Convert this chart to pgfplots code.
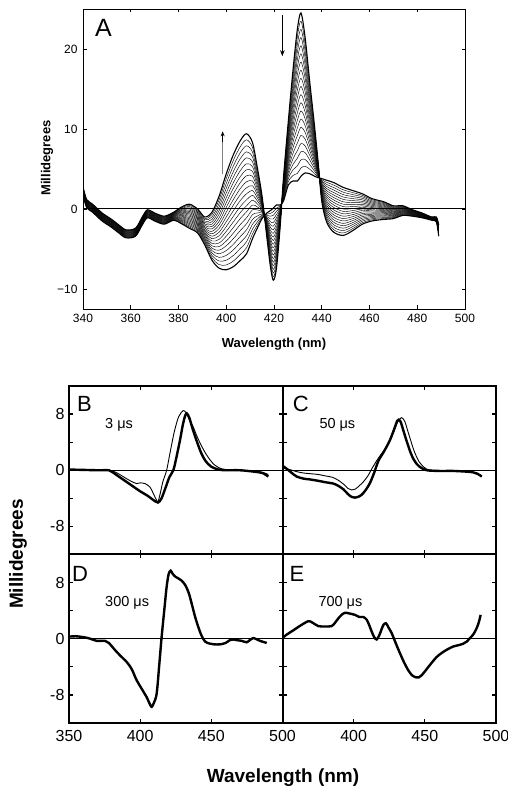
\documentclass[border=0pt]{standalone}
\usepackage{fontspec}
\setmainfont{Liberation Sans}
\usepackage{pgfplots}
\pgfplotsset{compat=1.18}
\usepackage{pgfplotstable}
\usetikzlibrary{arrows.meta}

\pgfplotstableread{
x c0 c1 c2 c3 c4 c5 c6 c7 c8 c9 c10 c11 c12 c13 c14 c15 c16 c17 c18 c19 c20
340 2.8 2.75 2.7 2.65 2.6 2.55 2.5 2.45 2.4 2.35 2.3 2.25 2.2 2.15 2.1 2.05 2.0 1.95 1.9 1.85 1.8
341.5 1.2 1.15 1.1 1.05 1.0 0.95 0.9 0.85 0.8 0.75 0.7 0.65 0.6 0.55 0.5 0.45 0.4 0.35 0.3 0.25 0.2
344 0.6 0.55 0.5 0.45 0.4 0.35 0.3 0.25 0.2 0.15 0.1 0.05 0.0 -0.05 -0.1 -0.15 -0.2 -0.25 -0.3 -0.35 -0.4
348 -0.5 -0.55 -0.6 -0.65 -0.7 -0.75 -0.8 -0.85 -0.9 -0.95 -1.0 -1.05 -1.1 -1.15 -1.2 -1.25 -1.3 -1.35 -1.4 -1.45 -1.5
352 -1.3 -1.35 -1.4 -1.45 -1.5 -1.55 -1.6 -1.65 -1.7 -1.75 -1.8 -1.85 -1.9 -1.95 -2.0 -2.05 -2.1 -2.15 -2.2 -2.25 -2.3
355 -2.0 -2.05 -2.1 -2.15 -2.2 -2.25 -2.3 -2.35 -2.4 -2.45 -2.5 -2.55 -2.6 -2.65 -2.7 -2.75 -2.8 -2.85 -2.9 -2.95 -3.0
358 -2.6 -2.65 -2.7 -2.75 -2.8 -2.85 -2.9 -2.95 -3.0 -3.05 -3.1 -3.15 -3.2 -3.25 -3.3 -3.35 -3.4 -3.45 -3.5 -3.55 -3.6
362 -2.4 -2.45 -2.5 -2.55 -2.6 -2.65 -2.7 -2.75 -2.8 -2.85 -2.9 -2.95 -3.0 -3.05 -3.1 -3.15 -3.2 -3.25 -3.3 -3.35 -3.4
365 -0.9 -0.95 -1.0 -1.05 -1.1 -1.15 -1.2 -1.25 -1.3 -1.35 -1.4 -1.45 -1.5 -1.55 -1.6 -1.65 -1.7 -1.75 -1.8 -1.85 -1.9
367 -0.1 -0.15 -0.2 -0.25 -0.3 -0.35 -0.4 -0.45 -0.5 -0.55 -0.6 -0.65 -0.7 -0.75 -0.8 -0.85 -0.9 -0.95 -1.0 -1.05 -1.1
370 -0.5 -0.55 -0.6 -0.65 -0.7 -0.75 -0.8 -0.85 -0.9 -0.95 -1.0 -1.05 -1.1 -1.15 -1.2 -1.25 -1.3 -1.35 -1.4 -1.45 -1.5
374 -0.9 -0.95 -1.0 -1.05 -1.1 -1.15 -1.2 -1.25 -1.3 -1.35 -1.4 -1.45 -1.5 -1.55 -1.6 -1.65 -1.7 -1.75 -1.8 -1.85 -1.9
378 -0.4 -0.45 -0.5 -0.55 -0.6 -0.65 -0.7 -0.75 -0.8 -0.85 -0.9 -0.95 -1.0 -1.05 -1.1 -1.15 -1.2 -1.25 -1.3 -1.35 -1.4
381 0.2 0.1 0.0 -0.1 -0.2 -0.3 -0.4 -0.5 -0.6 -0.7 -0.8 -0.9 -1.0 -1.1 -1.2 -1.3 -1.4 -1.5 -1.6 -1.7 -1.8
384.5 0.6 0.45 0.3 0.15 0.0 -0.15 -0.3 -0.45 -0.6 -0.75 -0.9 -1.05 -1.2 -1.35 -1.5 -1.65 -1.8 -1.95 -2.1 -2.25 -2.4
388 0.0 -0.15 -0.3 -0.45 -0.6 -0.75 -0.9 -1.05 -1.2 -1.35 -1.5 -1.65 -1.8 -1.95 -2.1 -2.25 -2.4 -2.55 -2.7 -2.85 -3.0
391 -1.0 -1.175 -1.35 -1.525 -1.7 -1.875 -2.05 -2.225 -2.4 -2.575 -2.75 -2.925 -3.1 -3.275 -3.45 -3.625 -3.8 -3.975 -4.15 -4.325 -4.5
394 -0.4 -0.7 -1.0 -1.3 -1.6 -1.9 -2.2 -2.5 -2.8 -3.1 -3.4 -3.7 -4.0 -4.3 -4.6 -4.9 -5.2 -5.5 -5.8 -6.1 -6.4
397 1.6 1.15 0.7 0.25 -0.2 -0.65 -1.1 -1.55 -2.0 -2.45 -2.9 -3.35 -3.8 -4.25 -4.7 -5.15 -5.6 -6.05 -6.5 -6.95 -7.4
400 4.4 3.8 3.2 2.6 2.0 1.4 0.8 0.2 -0.4 -1.0 -1.6 -2.2 -2.8 -3.4 -4.0 -4.6 -5.2 -5.8 -6.4 -7.0 -7.6
403 6.8 6.1 5.4 4.7 4.0 3.3 2.6 1.9 1.2 0.5 -0.2 -0.9 -1.6 -2.3 -3.0 -3.7 -4.4 -5.1 -5.8 -6.5 -7.2
406 8.6 7.85 7.1 6.35 5.6 4.85 4.1 3.35 2.6 1.85 1.1 0.35 -0.4 -1.15 -1.9 -2.65 -3.4 -4.15 -4.9 -5.65 -6.4
408.5 9.4 8.65 7.9 7.15 6.4 5.65 4.9 4.15 3.4 2.65 1.9 1.15 0.4 -0.35 -1.1 -1.85 -2.6 -3.35 -4.1 -4.85 -5.6
411 8.3 7.7 7.1 6.5 5.9 5.3 4.7 4.1 3.5 2.9 2.3 1.7 1.1 0.5 -0.1 -0.7 -1.3 -1.9 -2.5 -3.1 -3.7
413 5.2 4.82 4.44 4.06 3.68 3.3 2.92 2.54 2.16 1.78 1.4 1.02 0.64 0.26 -0.12 -0.5 -0.88 -1.26 -1.64 -2.02 -2.4
415 1.6 1.46 1.32 1.18 1.04 0.9 0.76 0.62 0.48 0.34 0.2 0.06 -0.08 -0.22 -0.36 -0.5 -0.64 -0.78 -0.92 -1.06 -1.2
417 -3.5 -3.35 -3.2 -3.05 -2.9 -2.75 -2.6 -2.45 -2.3 -2.15 -2.0 -1.85 -1.7 -1.55 -1.4 -1.25 -1.1 -0.95 -0.8 -0.65 -0.5
418.5 -7.2 -6.85 -6.5 -6.15 -5.8 -5.45 -5.1 -4.75 -4.4 -4.05 -3.7 -3.35 -3.0 -2.65 -2.3 -1.95 -1.6 -1.25 -0.9 -0.55 -0.2
419.7 -8.9 -8.45 -8.0 -7.55 -7.1 -6.65 -6.2 -5.75 -5.3 -4.85 -4.4 -3.95 -3.5 -3.05 -2.6 -2.15 -1.7 -1.25 -0.8 -0.35 0.1
421 -7.5 -7.1 -6.7 -6.3 -5.9 -5.5 -5.1 -4.7 -4.3 -3.9 -3.5 -3.1 -2.7 -2.3 -1.9 -1.5 -1.1 -0.7 -0.3 0.1 0.5
422.5 -2.5 -2.35 -2.2 -2.05 -1.9 -1.75 -1.6 -1.45 -1.3 -1.15 -1.0 -0.85 -0.7 -0.55 -0.4 -0.25 -0.1 0.05 0.2 0.35 0.5
424 4.0 3.85 3.7 3.55 3.4 3.25 3.1 2.95 2.8 2.65 2.5 2.35 2.2 2.05 1.9 1.75 1.6 1.45 1.3 1.15 1.0
426 11.0 10.6 10.2 9.8 9.4 9.0 8.6 8.2 7.8 7.4 7.0 6.6 6.2 5.8 5.4 5.0 4.6 4.2 3.8 3.4 3.0
428 17.5 16.8 16.1 15.4 14.7 14.0 13.3 12.6 11.9 11.2 10.5 9.8 9.1 8.4 7.7 7.0 6.3 5.6 4.9 4.2 3.5
429.8 22.5 21.55 20.6 19.65 18.7 17.75 16.8 15.85 14.9 13.95 13.0 12.05 11.1 10.15 9.2 8.25 7.3 6.35 5.4 4.45 3.5
431.3 24.5 23.48 22.46 21.44 20.42 19.4 18.38 17.36 16.34 15.32 14.3 13.28 12.26 11.24 10.22 9.2 8.18 7.16 6.14 5.12 4.1
433 21.5 20.65 19.8 18.95 18.1 17.25 16.4 15.55 14.7 13.85 13.0 12.15 11.3 10.45 9.6 8.75 7.9 7.05 6.2 5.35 4.5
435 15.8 15.23 14.66 14.09 13.52 12.95 12.38 11.81 11.24 10.67 10.1 9.53 8.96 8.39 7.82 7.25 6.68 6.11 5.54 4.97 4.4
437 10.3 9.99 9.68 9.37 9.06 8.75 8.44 8.13 7.82 7.51 7.2 6.89 6.58 6.27 5.96 5.65 5.34 5.03 4.72 4.41 4.1
438.6 5.5 5.42 5.34 5.26 5.18 5.1 5.02 4.94 4.86 4.78 4.7 4.62 4.54 4.46 4.38 4.3 4.22 4.14 4.06 3.98 3.9
440 1.0 1.14 1.28 1.42 1.56 1.7 1.84 1.98 2.12 2.26 2.4 2.54 2.68 2.82 2.96 3.1 3.24 3.38 3.52 3.66 3.8
442 -1.6 -1.34 -1.08 -0.82 -0.56 -0.3 -0.04 0.22 0.48 0.74 1.0 1.26 1.52 1.78 2.04 2.3 2.56 2.82 3.08 3.34 3.6
445 -2.9 -2.59 -2.28 -1.97 -1.66 -1.35 -1.04 -0.73 -0.42 -0.11 0.2 0.51 0.82 1.13 1.44 1.75 2.06 2.37 2.68 2.99 3.3
449 -3.3 -3.0 -2.7 -2.4 -2.1 -1.8 -1.5 -1.2 -0.9 -0.6 -0.3 0.0 0.3 0.6 0.9 1.2 1.5 1.8 2.1 2.4 2.7
453 -2.7 -2.45 -2.2 -1.95 -1.7 -1.45 -1.2 -0.95 -0.7 -0.45 -0.2 0.05 0.3 0.55 0.8 1.05 1.3 1.55 1.8 2.05 2.3
457 -1.9 -1.71 -1.52 -1.33 -1.14 -0.95 -0.76 -0.57 -0.38 -0.19 0.0 0.19 0.38 0.57 0.76 0.95 1.14 1.33 1.52 1.71 1.9
461 -1.5 -1.36 -1.22 -1.08 -0.94 -0.8 -0.66 -0.52 -0.38 -0.24 -0.1 0.04 0.18 0.32 0.46 0.6 0.74 0.88 1.02 1.16 1.3
466 -1.3 -1.19 -1.08 -0.97 -0.86 -0.75 -0.64 -0.53 -0.42 -0.31 -0.2 -0.09 0.02 0.13 0.24 0.35 0.46 0.57 0.68 0.79 0.9
470 -1.2 -1.12 -1.04 -0.96 -0.88 -0.8 -0.72 -0.64 -0.56 -0.48 -0.4 -0.32 -0.24 -0.16 -0.08 0.0 0.08 0.16 0.24 0.32 0.4
474 -0.8 -0.74 -0.68 -0.62 -0.56 -0.5 -0.44 -0.38 -0.32 -0.26 -0.2 -0.14 -0.08 -0.02 0.04 0.1 0.16 0.22 0.28 0.34 0.4
478 -0.9 -0.86 -0.82 -0.78 -0.74 -0.7 -0.66 -0.62 -0.58 -0.54 -0.5 -0.46 -0.42 -0.38 -0.34 -0.3 -0.26 -0.22 -0.18 -0.14 -0.1
482 -1.1 -1.07 -1.04 -1.01 -0.98 -0.95 -0.92 -0.89 -0.86 -0.83 -0.8 -0.77 -0.74 -0.71 -0.68 -0.65 -0.62 -0.59 -0.56 -0.53 -0.5
486 -1.4 -1.38 -1.36 -1.34 -1.32 -1.3 -1.28 -1.26 -1.24 -1.22 -1.2 -1.18 -1.16 -1.14 -1.12 -1.1 -1.08 -1.06 -1.04 -1.02 -1.0
488 -1.6 -1.57 -1.54 -1.51 -1.48 -1.45 -1.42 -1.39 -1.36 -1.33 -1.3 -1.27 -1.24 -1.21 -1.18 -1.15 -1.12 -1.09 -1.06 -1.03 -1.0
489 -3.4 -3.33 -3.26 -3.19 -3.12 -3.05 -2.98 -2.91 -2.84 -2.77 -2.7 -2.63 -2.56 -2.49 -2.42 -2.35 -2.28 -2.21 -2.14 -2.07 -2.0
}\dataA

\pgfplotsset{
  panel/.style={
    scale only axis, width=213.5pt, height=168.5pt,
    xmin=350, xmax=500, ymin=-12, ymax=12,
    xtick={350,400,450,500}, ytick={-8,-4,0,4,8},
    xticklabels={}, yticklabels={},
    tick align=inside, major tick length=4pt,
    axis line style={line width=2pt},
    tick style={line width=1.2pt, black},
    ticklabel style={font=\fontsize{16}{18}\selectfont},
    xticklabel style={yshift=-4pt},
    yticklabel style={xshift=-1pt},
  },
  zline/.style={black, line width=0.8pt, forget plot},
  thick curve/.style={black, line width=2.4pt, smooth},
  thin curve/.style={black, line width=0.9pt, smooth},
}

\begin{document}
\begin{tikzpicture}[x=1pt,y=1pt]
\path[use as bounding box] (0,0) rectangle (508,789);

% ---------------- Panel A ----------------
\begin{axis}[
  at={(83pt,480pt)}, anchor=south west,
  scale only axis, width=382pt, height=300pt,
  xmin=340, xmax=500, ymin=-12.5, ymax=25,
  xtick={340,360,380,400,420,440,460,480,500},
  xticklabels={340,360,380,400,420,440,460,480,500},
  ytick={-10,0,10,20},
  yticklabels={−10,0,10,20},
  tick align=inside, major tick length=3.5pt,
  axis line style={line width=0.7pt},
  tick style={line width=0.6pt, black},
  ticklabel style={font=\fontsize{12}{14}\selectfont},
  xticklabel style={yshift=-2pt},
  yticklabel style={xshift=-2pt},
]
\pgfplotsinvokeforeach{1,...,19}{
  \addplot[black, line width=0.45pt, smooth] table[x=x, y=c#1]{\dataA};
}
\addplot[black, line width=1.1pt, smooth] table[x=x, y=c0]{\dataA};
\addplot[black, line width=1.1pt, smooth] table[x=x, y=c20]{\dataA};
\addplot[black, line width=1pt] coordinates {(340,0) (500,0)};
\draw[black, line width=0.9pt, -{Stealth[length=6pt,width=4.5pt]}] (axis cs:423.5,24.2) -- (axis cs:423.5,19.1);
\draw[gray, line width=0.8pt] (axis cs:398.5,4.4) -- (axis cs:398.5,8.6);
\draw[black, line width=0.8pt, -{Stealth[length=5pt,width=4pt]}] (axis cs:398.5,8.4) -- (axis cs:398.5,9.7);
\end{axis}
\node[anchor=base west, inner sep=0pt, font=\fontsize{25}{25}\selectfont] at (95,752) {A};
\node[font=\bfseries\fontsize{13}{15}\selectfont] at (274,445) {Wavelength (nm)};
\node[rotate=90, font=\bfseries\fontsize{13}{15}\selectfont] at (47,631) {Millidegrees};

% ---------------- Panel B ----------------
\begin{axis}[panel, at={(69pt,234.5pt)}, anchor=south west, yticklabels={-8,,0,,8}]
\addplot[zline] coordinates {(350,0) (500,0)};
\addplot[thin curve] coordinates {(350,0.1) (360,0.05) (370,0) (378,0) (383,-0.3) (388,-0.9) (393,-1.5) (397.5,-1.9) (400,-1.8) (403.4,-1.9) (406.9,-2.4) (409.2,-3.3) (411.6,-4.3) (412.5,-4.5) (414,-3.4) (416,-1.6) (418.6,0) (421,2.5) (424,5.5) (427,7.6) (430.3,8.5) (432.5,8.1) (435,7.0) (437,6.3) (440,4.8) (443,3.5) (446,2.4) (449,1.5) (452,0.8) (456,0.3) (460,0.1) (470,0) (480,-0.1) (486,-0.3) (490,-0.6)};
\addplot[thick curve] coordinates {(350,0.1) (360,0.05) (370,0) (378,0) (380,-0.2) (385,-0.9) (390,-1.6) (395,-2.3) (400,-3.0) (405,-3.6) (409,-4.2) (412.5,-4.6) (415,-4.0) (418,-2.4) (420.5,-1.0) (423.3,0) (425,1.4) (428,4.3) (430,6.5) (431.5,7.7) (432.7,8.1) (434.5,7.5) (437,5.8) (440,4.0) (443,2.4) (446,1.3) (450,0.5) (455,0.1) (460,0) (470,0) (480,-0.2) (486,-0.4) (490,-0.9)};
\end{axis}

% ---------------- Panel C ----------------
\begin{axis}[panel, at={(282.5pt,234.5pt)}, anchor=south west]
\addplot[zline] coordinates {(350,0) (500,0)};
\addplot[thin curve] coordinates {(350,0.3) (355,0.1) (360,-0.2) (365,-0.4) (370,-0.5) (375,-0.6) (380,-0.8) (385,-1.0) (389,-1.4) (393,-2.0) (396,-2.6) (398.5,-2.8) (401,-2.7) (404,-2.2) (407,-1.6) (410,-0.8) (413,0.3) (416,1.3) (419,2.2) (422,3.0) (425,4.0) (428,5.4) (431,6.9) (433.7,7.5) (436,6.9) (438,5.6) (440,4.3) (442,3.0) (444,2.0) (446,1.2) (448,0.7) (451,0.2) (455,0) (470,-0.1) (480,-0.2) (485,-0.4) (490,-0.9)};
\addplot[thick curve] coordinates {(350,0.65) (353,0.2) (356,-0.3) (360,-0.9) (365,-1.2) (369,-1.3) (375,-1.5) (380,-1.7) (385.7,-1.9) (389,-2.2) (392.7,-2.7) (396,-3.4) (398.6,-3.8) (401,-3.9) (403,-3.8) (405.6,-3.5) (408.5,-2.8) (411.5,-1.8) (414.5,-0.3) (417.3,1.3) (420.8,2.5) (423,3.3) (425.5,4.3) (428,5.6) (430.5,7.0) (431.5,7.2) (433,6.9) (435,5.6) (437.3,4.1) (440,2.5) (442,1.6) (444.3,0.9) (447,0.4) (451.3,0) (460,-0.1) (470,-0.1) (479.4,-0.2) (484,-0.3) (487,-0.5) (490,-0.9)};
\end{axis}

% ---------------- Panel D ----------------
\begin{axis}[panel, at={(69pt,66pt)}, anchor=south west, yticklabels={-8,,0,,8}, xticklabels={350,400,450,500}]
\addplot[zline] coordinates {(350,0) (500,0)};
\addplot[thick curve] coordinates {(350,0.3) (355,0.35) (361,0.2) (365,0) (369.5,-0.3) (375.3,-0.3) (378,-0.6) (382.3,-1.6) (386,-2.4) (390.5,-3.3) (394,-4.3) (397.5,-5.9) (401,-7.1) (404.5,-8.3) (407,-9.4) (408.1,-9.7) (409.5,-9.2) (411.6,-7.8) (413.5,-3.5) (415.1,0.3) (417,4.2) (418.6,7.4) (420,9.2) (421.4,9.7) (423,9.2) (425,8.8) (426.8,8.6) (429,8.3) (431.5,7.7) (434,6.6) (436.2,5.0) (438.5,3.2) (440.8,1.7) (443,0.5) (445.6,-0.4) (449,-0.7) (452,-0.8) (456.1,-0.8) (460,-0.6) (463,-0.2) (465.4,-0.1) (468,-0.2) (471.3,-0.3) (474.8,-0.5) (477,-0.2) (479.5,0.1) (482,-0.1) (484.2,-0.3) (488.9,-0.6)};
\end{axis}

% ---------------- Panel E ----------------
\begin{axis}[panel, at={(282.5pt,66pt)}, anchor=south west, xticklabels={,400,450,500}]
\addplot[zline] coordinates {(350,0) (500,0)};
\addplot[thick curve] coordinates {(350,0.1) (353,0.6) (357.6,1.2) (362,1.8) (368.1,2.5) (371,2.3) (375.2,1.8) (380,1.75) (384.5,1.8) (387,2.3) (389.2,2.9) (391.5,3.4) (393.9,3.7) (397,3.6) (400.9,3.4) (404,3.1) (406.8,3.1) (409.2,2.7) (411,1.9) (412.7,1.0) (414.5,0.2) (416.2,-0.1) (418,0.5) (419.7,1.4) (421,2.0) (422.7,2.2) (424.5,1.6) (426.7,0.8) (429.5,-0.6) (432.6,-2.1) (435.5,-3.4) (438.4,-4.5) (441,-5.2) (443.8,-5.5) (445.8,-5.5) (447.8,-5.2) (451,-4.4) (454.5,-3.5) (458.3,-2.6) (462,-2.0) (466,-1.5) (470,-1.1) (474,-0.9) (477,-0.7) (479.5,-0.4) (481.7,0.1) (484,0.6) (486.4,1.5) (488,2.4) (489.2,3.4)};
\end{axis}

% panel annotations
\node[anchor=base west, inner sep=0pt, font=\fontsize{22}{22}\selectfont] at (77,377.3) {B};
\node[anchor=base west, inner sep=0pt, font=\fontsize{14.5}{16}\selectfont] at (105,360) {3 μs};
\node[anchor=base west, inner sep=0pt, font=\fontsize{22}{22}\selectfont] at (292.7,377.3) {C};
\node[anchor=base west, inner sep=0pt, font=\fontsize{14.5}{16}\selectfont] at (319.3,360) {50 μs};
\node[anchor=base west, inner sep=0pt, font=\fontsize{22}{22}\selectfont] at (72,207.3) {D};
\node[anchor=base west, inner sep=0pt, font=\fontsize{14.5}{16}\selectfont] at (105,182) {300 μs};
\node[anchor=base west, inner sep=0pt, font=\fontsize{22}{22}\selectfont] at (289.3,207.3) {E};
\node[anchor=base west, inner sep=0pt, font=\fontsize{14.5}{16}\selectfont] at (318.3,182) {700 μs};

\node[font=\bfseries\fontsize{19}{22}\selectfont] at (283,11) {Wavelength (nm)};
\node[rotate=90, font=\bfseries\fontsize{19}{22}\selectfont] at (18,235) {Millidegrees};
\end{tikzpicture}
\end{document}
